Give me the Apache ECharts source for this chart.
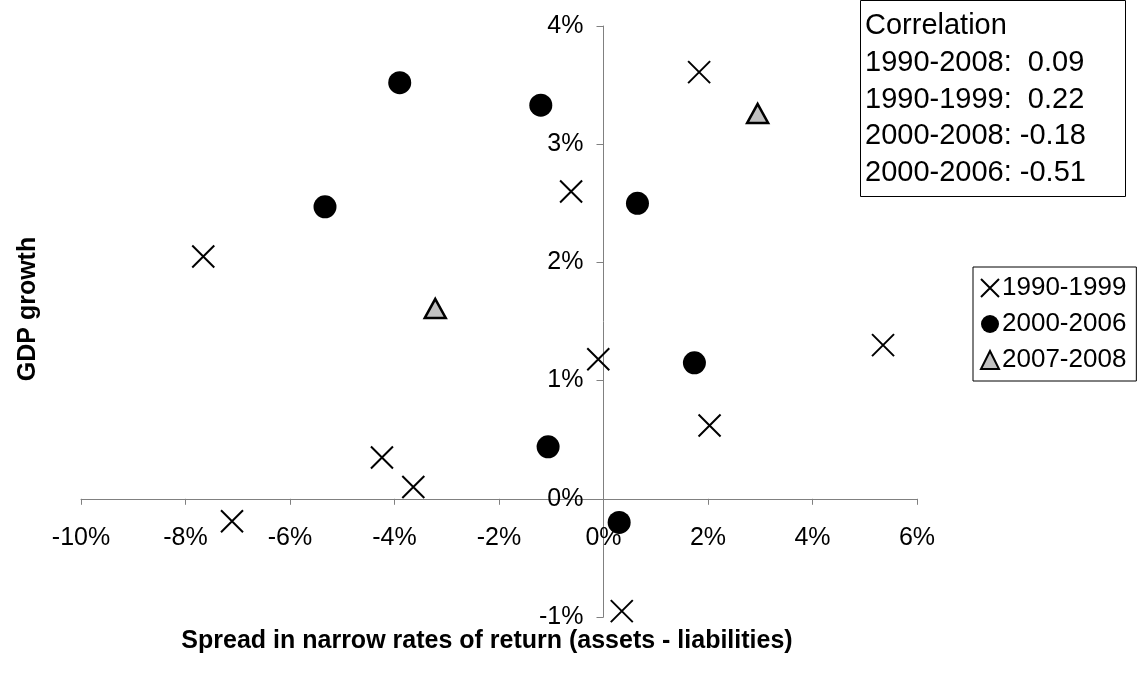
<!DOCTYPE html>
<html>
<head>
<meta charset="utf-8">
<script src="https://cdn.jsdelivr.net/npm/echarts@6/dist/echarts.min.js"></script>
<style>
html,body{margin:0;padding:0;background:#fff;}
#chart{width:1144px;height:678px;}
</style>
</head>
<body>
<div id="chart"></div>
<script>
// ---- data ----
const seriesNames = ['1990-1999', '2000-2006', '2007-2008'];
const spread1990s = [1.83, -0.62, -7.66, -0.10, 5.35, 2.03, -4.24, -3.64, -7.11, 0.35];
const gdp1990s    = [3.61, 2.60, 2.05, 1.18, 1.30, 0.62, 0.35, 0.10, -0.19, -0.95];
const spread2000s = [-3.90, -1.20, -5.33, 0.65, 1.74, -1.06, 0.30];
const gdp2000s    = [3.52, 3.33, 2.47, 2.50, 1.15, 0.44, -0.20];
const spread2007  = [2.95, -3.22];
const gdp2007     = [3.26, 1.61];
const corrPeriods = ['1990-2008:  ', '1990-1999:  ', '2000-2008: ', '2000-2006: '];
const corrValues  = ['0.09', '0.22', '-0.18', '-0.51'];
const xTicks = [-10, -8, -6, -4, -2, 0, 2, 4, 6];
const yTicks = [-1, 0, 1, 2, 3, 4];

const pairs = (xs, ys) => xs.map((x, i) => [x, ys[i]]);
const FONT = '"Liberation Sans", Arial, sans-serif';

const W = 1144, H = 678;
const grid = {left: 81, right: 227, top: 26, bottom: 61};
const gridW = W - grid.left - grid.right;
const gridH = H - grid.top - grid.bottom;
const xMin = xTicks[0], xMax = xTicks[xTicks.length - 1];
const yMin = yTicks[0], yMax = yTicks[yTicks.length - 1];
// shift axes so they cross at zero (labels follow the lines)
const xAxisOffset = -gridH * (0 - yMin) / (yMax - yMin);
const yAxisOffset = -gridW * (0 - xMin) / (xMax - xMin);

const chart = echarts.init(document.getElementById('chart'), null, {renderer: 'canvas'});
const corrText = ['Correlation'].concat(corrPeriods.map((p, i) => p + corrValues[i])).join('\n');

chart.setOption({
  animation: false,
  backgroundColor: '#ffffff',
  grid: Object.assign({containLabel: false}, grid),
  xAxis: {
    type: 'value', min: xMin, max: xMax, interval: 2, position: 'bottom', offset: xAxisOffset,
    axisLine: {onZero: false, lineStyle: {color: '#808080', width: 1}},
    axisTick: {show: true, inside: false, length: 6, lineStyle: {color: '#808080'}},
    splitLine: {show: false},
    axisLabel: {formatter: '{value}%', fontFamily: FONT, fontSize: 25, color: '#000', margin: 27}
  },
  yAxis: {
    type: 'value', min: yMin, max: yMax, interval: 1, position: 'left', offset: yAxisOffset,
    axisLine: {onZero: false, lineStyle: {color: '#808080', width: 1}},
    axisTick: {show: true, inside: false, length: 7, lineStyle: {color: '#808080'}},
    splitLine: {show: false},
    axisLabel: {formatter: '{value}%', fontFamily: FONT, fontSize: 25, color: '#000', margin: 20, padding: [6, 0, 0, 0]}
  },
  legend: {
    orient: 'vertical', left: 973, top: 267,
    data: seriesNames,
    borderColor: '#000', borderWidth: 1, backgroundColor: '#fff',
    padding: [6, 10, 6, 7], itemGap: 6, itemWidth: 18, itemHeight: 18,
    textStyle: {fontFamily: FONT, fontSize: 26, color: '#000', lineHeight: 30, padding: [0, 0, 0, -2]}
  },
  title: {
    text: corrText, left: 860, top: 0,
    padding: [8, 40, 5, 5],
    borderColor: '#000', borderWidth: 1, backgroundColor: '#fff',
    textStyle: {fontFamily: FONT, fontSize: 29, fontWeight: 'normal', color: '#000', lineHeight: 36.7}
  },
  graphic: [
    {type: 'text', x: 487, y: 641, style: {text: 'Spread in narrow rates of return (assets - liabilities)', font: 'bold 25px ' + FONT, fill: '#000', textAlign: 'center', textVerticalAlign: 'middle'}},
    {type: 'text', x: 28, y: 309, rotation: Math.PI / 2, style: {text: 'GDP growth', font: 'bold 25px ' + FONT, fill: '#000', textAlign: 'center', textVerticalAlign: 'middle'}}
  ],
  series: [
    {
      name: seriesNames[0], type: 'scatter',
      symbol: 'path://M0,0L10,10M10,0L0,10', symbolSize: 22,
      itemStyle: {color: 'rgba(0,0,0,0)', borderColor: '#000', borderWidth: 2, opacity: 1},
      data: pairs(spread1990s, gdp1990s)
    },
    {
      name: seriesNames[1], type: 'scatter',
      symbol: 'circle', symbolSize: 23,
      itemStyle: {color: '#000', borderColor: '#000', borderWidth: 0, opacity: 1},
      data: pairs(spread2000s, gdp2000s)
    },
    {
      name: seriesNames[2], type: 'scatter',
      symbol: 'triangle', symbolSize: [21, 19],
      itemStyle: {color: '#c0c0c0', borderColor: '#000', borderWidth: 2.5, opacity: 1},
      data: pairs(spread2007, gdp2007)
    }
  ]
});
</script>
</body>
</html>
